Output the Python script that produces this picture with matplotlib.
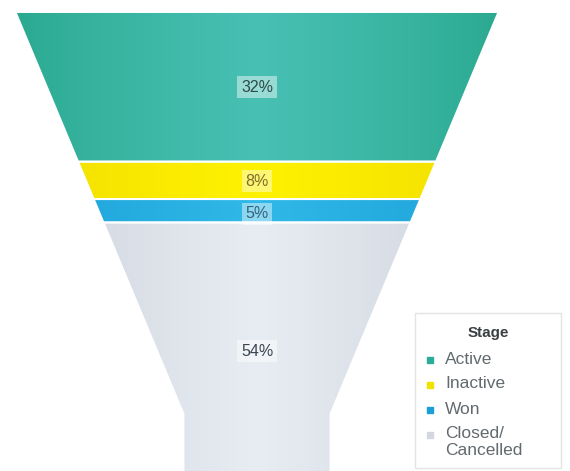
import matplotlib
matplotlib.use("Agg")
import matplotlib.pyplot as plt
import numpy as np
from matplotlib.patches import Polygon, Rectangle
from matplotlib.colors import to_rgb

# ---- data ----
stages = ["Active", "Inactive", "Won", "Closed/\nCancelled"]
values = [32, 8, 5, 54]
labels = ["32%", "8%", "5%", "54%"]
edge_colors = ["#2aa98f", "#f0dc00", "#1a9fd6", "#c9cfd7"]
center_colors = ["#48c0b4", "#fff200", "#30b8e8", "#e8edf4"]
marker_colors = ["#2bab98", "#f2e200", "#1a9fd6", "#d3d8de"]
text_colors = ["#2e4a48", "#7d6e2a", "#35627a", "#3c4650"]
legend_title = "Stage"

W, H = 570, 471
fig = plt.figure(figsize=(W / 100, H / 100), dpi=100)
ax = fig.add_axes([0, 0, 1, 1])
ax.set_xlim(0, W)
ax.set_ylim(H, 0)
ax.axis("off")

# funnel geometry (pixels)
cx = 257.0
top_y, bot_y = 12.0, 475.0
top_hw, neck_hw = 241.5, 73.5
neck_y = 414.0


def half_width(y):
    if y >= neck_y:
        return neck_hw
    t = (y - top_y) / (neck_y - top_y)
    return top_hw + (neck_hw - top_hw) * t


total = float(sum(values))
cum = np.concatenate([[0], np.cumsum(values)])
ys = top_y + cum / total * (bot_y - top_y)

label_y = [87, 181, 214, 351]

for i, v in enumerate(values):
    y0, y1 = ys[i], ys[i + 1]
    pts_y = [y0]
    if y0 < neck_y < y1:
        pts_y.append(neck_y)
    pts_y.append(y1)
    left = [(cx - half_width(y), y) for y in pts_y]
    right = [(cx + half_width(y), y) for y in reversed(pts_y)]
    poly = Polygon(left + right, closed=True, facecolor="none",
                   edgecolor="none")
    ax.add_patch(poly)
    # horizontal gradient clipped to the polygon
    xs = np.linspace(-1, 1, 300)
    f = (1 - np.abs(xs)) ** 0.8
    c0 = np.array(to_rgb(edge_colors[i]))
    c1 = np.array(to_rgb(center_colors[i]))
    img = c0[None, :] + (c1 - c0)[None, :] * f[:, None]
    img = np.tile(img[None, :, :], (2, 1, 1))
    im = ax.imshow(img, extent=[cx - top_hw, cx + top_hw, y1, y0],
                   aspect="auto", interpolation="bilinear", zorder=1)
    im.set_clip_path(poly)
    border = Polygon(left + right, closed=True, facecolor="none",
                     edgecolor="white", linewidth=1.4, zorder=2)
    ax.add_patch(border)
    ax.text(cx, label_y[i], labels[i], ha="center", va="center",
            fontsize=11.5, family="Liberation Sans", color=text_colors[i],
            zorder=3,
            bbox=dict(boxstyle="square,pad=0.22", facecolor="white",
                      edgecolor="none", alpha=0.45))

ax.set_xlim(0, W)
ax.set_ylim(H, 0)

# ---- legend (drawn manually to match the box layout) ----
ax.add_patch(Rectangle((415, 313), 146, 155, facecolor="white",
                       edgecolor="#e4e4e4", linewidth=1.0, zorder=4))
ax.text(488, 333, legend_title, ha="center", va="center", fontsize=11,
        fontweight="bold", family="Liberation Sans", color="#3a3f42",
        zorder=5)
for i, (name, col) in enumerate(zip(stages, marker_colors)):
    y = 361 + 25 * i
    ax.plot([430], [y - 1.5], marker="s", markersize=5.0, color=col,
            linestyle="none", zorder=5)
    ax.text(445, y - 9.5, name, ha="left", va="top", fontsize=12.5,
            family="Liberation Sans", color="#626a6e", linespacing=1.1,
            zorder=5)

fig.savefig("out.png", dpi=100)
